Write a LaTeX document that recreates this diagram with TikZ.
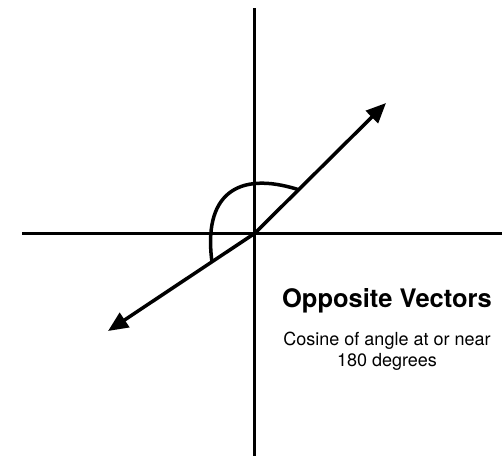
\documentclass[tikz,border=0pt]{standalone}
\usepackage{fontspec}
\setmainfont{TeX Gyre Heros}
\usetikzlibrary{arrows.meta}
\begin{document}
\begin{tikzpicture}[x=1pt,y=-1pt,
  axis/.style={line width=3.5pt},
  vec/.style={line width=3.5pt,-{Triangle[length=20pt,width=17pt]}},
  anglearc/.style={line width=3.5pt},
  lbl/.style={inner sep=0pt,align=center}]
\useasboundingbox (0,0) rectangle (502,456);
\coordinate (o) at (254.5,233.5);
\coordinate (top) at (254.5,8);
\coordinate (bot) at (254.5,456);
\coordinate (left) at (22,233.5);
\coordinate (right) at (502,233.5);
\coordinate (v1) at (386,103);
\coordinate (v2) at (108,331);
\coordinate (a1) at (212,262);
\coordinate (a2) at (298,189.5);
\draw[axis] (top) -- (bot);
\draw[axis] (left) -- (right);
\draw[vec] (o) -- (v1);
\draw[vec] (o) -- (v2);
\draw[anglearc] (a1) .. controls (203,196) and (236,170) .. (a2);
\node[lbl,anchor=base,font=\bfseries\fontsize{25.5}{28}\selectfont] (title) at (387,307) {Opposite Vectors};
\node[lbl,anchor=base,font=\fontsize{18}{21.7}\selectfont] (desc) at (387,366.7) {Cosine of angle at or near\\180 degrees};
\end{tikzpicture}
\end{document}
